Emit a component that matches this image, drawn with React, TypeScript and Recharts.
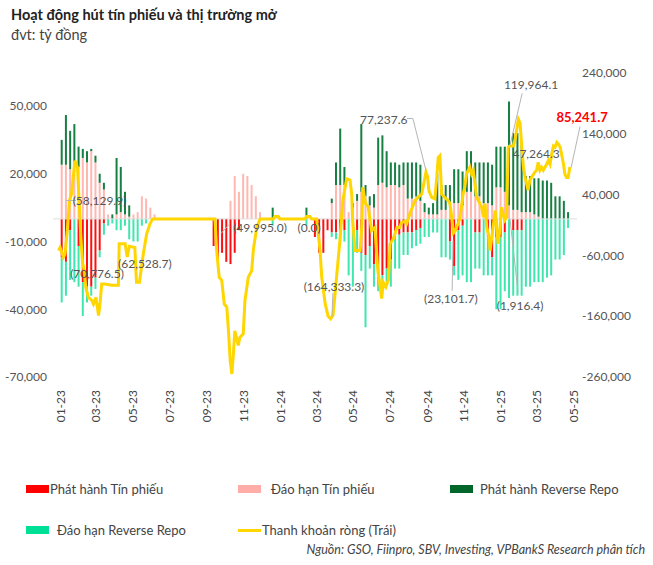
import React from 'react';
import { ComposedChart, Bar, Line, XAxis, YAxis, ReferenceLine, ReferenceDot } from 'recharts';

const FONT = 'Lato, "Noto Sans", sans-serif';

// Month tick labels (first day of each labelled month)
const monthTicks = ['2023-01', '2023-03', '2023-05', '2023-07', '2023-09', '2023-11', '2024-01', '2024-03', '2024-05', '2024-07', '2024-09', '2024-11', '2025-01', '2025-03', '2025-05'];

// Weekly values, thousand tỷ đồng (week 0 = first week of Jan 2023)
const daoHanTinPhieu = [24, 24, 22, 25, 23, 27, 25, 30, 25, 16, 13, 2, 0, 2, 3, 2, 1, 2, 3, 10, 9, 5, 2, 0, 0, 0, 0, 0, 0, 0, 0, 0, 0, 0, 0, 0, 0, 0, 0, 0, 8, 19, 12, 20, 19, 15, 10, 3, 0, 0, 0, 0, 0, 0, 0, 0, 0, 0, 0, 0, 0, 0, 0, 0, 7, 15, 15, 15, 3, 5, 8, 12, 10, 6, 5, 15, 16, 14, 15, 15, 14, 15, 9, 9, 10, 8, 3, 2, 2, 2, 4, 4, 5, 7, 7, 6, 12, 12, 10, 10, 7, 7, 6, 14, 14, 12, 6, 4, 4, 3, 3, 3, 2, 1, 0, 0, 0, 0, 0, 0, 0];
const phatHanhRepo = [11, 22, 17, 17, 9, 4, 5, 1, 3, 4, 3, 0, 2, 25, 20, 10, 5, 0, 0, 0, 0, 0, 0, 0, 0, 0, 0, 0, 0, 0, 0, 0, 0, 0, 0, 0, 0, 0, 0, 0, 0, 0, 0, 0, 0, 0, 0, 0, 0, 0, 5, 0, 0, 0, 0, 0, 0, 0, 5, 0, 0, 0, 0, 0, 2, 10, 25, 8, 0, 2, 3, 30, 5, 4, 6, 21, 21, 16, 10, 10, 10, 10, 16, 16, 15, 16, 4, 3, 5, 18, 11, 11, 10, 15, 15, 15, 18, 18, 15, 15, 18, 18, 18, 18, 18, 20, 46, 34, 34, 30, 16, 16, 16, 17, 17, 17, 16, 10, 10, 8, 3];
const phatHanhTinPhieu = [-17, -19, -5, 0, -12, -28, -30, -30, -26, -14, -2, 0, 0, 0, 0, 0, 0, 0, 0, 0, 0, 0, 0, 0, 0, 0, 0, 0, 0, 0, 0, 0, 0, 0, 0, 0, -12, -18, -15, -19, -20, -15, -5, 0, 0, 0, 0, 0, 0, 0, 0, 0, 0, 0, 0, 0, 0, 0, 0, 0, -8, -15, -15, -5, -6, -6, -5, -5, 0, 0, -5, -15, -16, -12, -20, -24, -25, -22, -18, -7, -7, -6, -6, -6, -5, -4, 0, 0, 0, 0, 0, 0, -10, -21, -5, -3, 0, 0, -6, -6, 0, -8, -17, -8, -8, -6, 0, -5, -5, -5, 0, 0, 0, 0, 0, 0, 0, 0, 0, 0, 0];
const daoHanRepo = [-20, -15, -22, -28, -18, -15, -7, -4, -5, -3, -5, -3, -2, -5, -5, -3, -9, -10, -10, -3, -2, 0, 0, 0, 0, 0, 0, 0, 0, 0, 0, 0, 0, 0, 0, 0, 0, 0, 0, 0, 0, 0, 0, 0, 0, 0, 0, 0, 0, 0, -3, 0, 0, 0, 0, 0, 0, 0, -3, 0, 0, 0, 0, 0, -2, -3, -5, -5, -25, -30, -10, -8, -32, -10, -10, -8, -6, -6, -12, -15, -15, -10, -10, -7, -7, -7, -8, -8, -6, -6, -17, -17, -8, -4, -22, -22, -28, -28, -16, -16, -25, -17, -8, -32, -32, -26, -35, -29, -29, -29, -30, -30, -28, -28, -28, -26, -25, -18, -18, -16, -4];

// Net liquidity (right axis): [week, thousand tỷ đồng]
const thanhKhoanRong: [number, number][] = [
  [-0.8, -52], [-0.4, -47], [0.36, -63], [0.76, -58.13], [1.3, -19], [1.8, 30], [2.3, 41], [3.1, 96], [3.7, 85], [4.1, 30], [4.5, -30], [4.9, -70.78], [5.3, -85], [5.7, -113], [6.3, -129], [7.1, -134], [7.5, -140], [8.1, -129], [8.7, -159], [9.05, -140], [9.45, -107], [10.2, -107], [11.8, -109], [13.4, -109], [13.6, -41], [15, -41], [15.5, -62.53], [16, -45], [17.3, -47], [17.7, -104], [18.4, -104], [19.3, -58], [20.1, -25], [20.9, -8], [21.5, 0],
  [36.3, 0], [36.7, -52], [37.3, -96], [37.9, -101], [38.5, -140], [39.1, -145], [39.5, -184], [39.9, -233], [40.3, -255], [40.6, -228], [41.0, -184], [41.4, -195], [41.8, -208], [42.2, -195], [43.0, -189], [43.4, -134], [44.2, -96], [45.0, -85], [45.4, -50], [46.2, -14], [47, 0],
  [50.1, 0], [50.5, 4], [51.3, 4], [51.7, 0], [57.6, 0], [58.0, 4], [58.8, 4], [59.2, 0], [60.4, 0],
  [61.2, -52], [61.6, -96], [62.4, -139], [63.1, -160], [63.7, -164.33], [64.3, -158], [65.1, -96], [65.9, -36], [66.6, 30], [67.5, 66], [68.3, 64], [68.7, 41], [68.9, 0], [69.5, -52], [70.7, -52], [71.1, -10], [71.3, 52], [72, 25], [72.6, 20], [73, 0], [73.4, -19], [74.2, -14], [74.9, -85], [75.4, -110], [75.8, -131], [76.2, -105], [76.8, -112], [77.4, -100], [77.8, -41], [78.6, -32], [79.4, -14], [80.1, -14], [80.5, -6], [81.3, -4], [81.7, -8], [82.5, 9], [83.3, 23], [83.7, 30], [84.5, 36], [85.3, 41], [85.7, 55], [86.3, 77.24], [86.7, 69], [87, 46], [87.7, 35], [88.4, 33], [88.8, 63], [89.2, 101], [89.6, 104],
  [90.0, 41], [90.8, 35], [91.6, 30], [92, 25], [92.4, 3], [92.8, -23.1], [93.2, -20], [94, -6], [94.3, 0], [94.8, 25], [95.1, 41], [95.5, 52], [95.9, 74], [96.7, 85], [97.1, 74], [97.5, 80], [97.9, 58], [98.3, 36], [99.5, 19], [99.9, 3], [100.3, 25], [100.7, -14], [101.1, -25], [101.5, -52], [101.9, -30], [102.3, -8], [102.7, 14], [103.1, -19], [103.4, -41], [103.8, -19], [104.2, 19], [104.6, 8], [105, -1.92], [105.4, 3], [105.8, 118], [106.2, 119.96], [107, 120], [107.4, 130], [108.2, 164], [108.6, 158], [109, 118], [109.4, 85], [109.8, 68], [110.5, 47.26], [110.9, 63], [111.3, 68], [112.1, 77], [112.5, 80], [112.9, 93], [113.3, 80], [113.7, 85], [114.1, 80], [114.9, 90], [115.3, 96], [115.7, 90], [116.1, 107], [116.5, 120], [116.9, 118], [117.3, 126], [117.7, 123], [118.1, 118], [118.5, 104], [118.9, 90], [119.2, 74], [119.6, 68], [120, 68], [120.4, 85.24],
];

const leftTicks = [-70000, -40000, -10000, 20000, 50000];
const rightTicks = [-260000, -160000, -60000, 40000, 140000, 240000];
const xDomain: [number, number] = [-2.088, 122.09];

// Annotations: text centre [week, value (thousand, right axis)]
const annotations = [
  { t: 8.93, v: 30.2, text: '(58,129.9)' },
  { t: 8.34, v: -90.2, text: '(70,776.5)' },
  { t: 19.7, v: -73.7, text: '(62,528.7)' },
  { t: 46.97, v: -14.3, text: '(49,995.0)' },
  { t: 58.6, v: -14.3, text: '(0.0)' },
  { t: 64.5, v: -111.6, text: '(164,333.3)' },
  { t: 76.3, v: 163.7, text: '77,237.6' },
  { t: 92.2, v: -131.4, text: '(23,101.7)' },
  { t: 111.2, v: 221.4, text: '119,964.1' },
  { t: 112.4, v: 107.7, text: '47,264.3' },
  { t: 108.6, v: -142.9, text: '(1,916.4)' },
  { t: 123.3, v: 167, text: '85,241.7', highlight: true },
];
const leaders: [number, number, number, number][] = [
  [1.0, 30.2, 3.4, 30.2],
  [37.7, -24.2, 39.6, -9.4],
  [64.26, -121.5, 64.0, -161],
  [81.8, 165.2, 83.2, 165.2],
  [83.2, 165.2, 86.3, 79.6],
  [92.5, -118.2, 92.7, -35.8],
  [109.1, 206.6, 106.2, 120.8],
  [108.1, -120, 106.2, 0.5],
  [122.8, 152, 120.7, 84.5],
];

const legendItems = [
  { label: 'Phát hành Tín phiếu', color: '#FF0000', left: 26, top: 489, gap: 1, line: false },
  { label: 'Đáo hạn Tín phiếu', color: '#FFADA6', left: 238, top: 489, gap: 10, line: false },
  { label: 'Phát hành Reverse Repo', color: '#00662A', left: 450, top: 489, gap: 7, line: false },
  { label: 'Đáo hạn Reverse Repo', color: '#00DF96', left: 26, top: 530, gap: 8, line: false },
  { label: 'Thanh khoản ròng (Trái)', color: '#FFD600', left: 238, top: 530, gap: 1, line: true },
];

function weekOf(ym: string) {
  const [y, m] = ym.split('-').map(Number);
  const day = (Date.UTC(y, m - 1, 1) - Date.UTC(2023, 0, 1)) / 86400000;
  return (day - 3) / 7;
}
const tickValues = monthTicks.map(weekOf);
const tickLabels = monthTicks.map((s) => s.slice(5, 7) + '-' + s.slice(2, 4));

const barData = daoHanTinPhieu.map((p, i) => ({
  t: i,
  pink: p * 1000,
  green: phatHanhRepo[i] * 1000,
  red: phatHanhTinPhieu[i] * 1000,
  mint: daoHanRepo[i] * 1000,
}));
const lineData = thanhKhoanRong.map(([t, v]) => ({ t, net: v * 1000 }));

const fmt = (v: number) => v.toLocaleString('en-US');

const MonthTick = (props: any) => {
  const { x, y, index } = props;
  return (
    <text x={x} y={y} transform={`rotate(-90 ${x} ${y})`} textAnchor="end" dominantBaseline="central" fontSize={12} fill="#444" fontFamily={FONT}>
      {tickLabels[index]}
    </text>
  );
};

export default function App() {
  return (
    <div style={{ position: 'absolute', left: 0, top: 0, width: 653, height: 565, background: '#fff', fontFamily: FONT, overflow: 'hidden' }}>
      <div style={{ position: 'absolute', left: 11, top: 6, fontSize: 14.5, fontWeight: 700, color: '#222', lineHeight: '18px', whiteSpace: 'nowrap' }}>
        Hoạt động hút tín phiếu và thị trường mở
      </div>
      <div style={{ position: 'absolute', left: 11, top: 26, fontSize: 14.5, color: '#444', lineHeight: '18px', whiteSpace: 'nowrap' }}>
        đvt: tỷ đồng
      </div>
      <div style={{ position: 'absolute', left: 0, top: 0 }}>
        <ComposedChart width={653} height={440} data={barData} margin={{ top: 73, right: 0, bottom: 0, left: 0 }} stackOffset="sign" barGap={0} barCategoryGap={0}>
          <XAxis dataKey="t" type="number" domain={xDomain} allowDataOverflow ticks={tickValues} interval={0} tick={<MonthTick />} tickLine={false} axisLine={false} height={63} tickSize={0} tickMargin={13} />
          <XAxis xAxisId="bars" dataKey="t" type="number" domain={xDomain} allowDataOverflow hide />
          <YAxis yAxisId="left" domain={[-70000, 64615]} allowDataOverflow ticks={leftTicks} interval={0} width={53} tickLine={false} axisLine={false} tickSize={0} tickMargin={6} tick={{ fontSize: 12, fill: '#555', fontFamily: FONT }} tickFormatter={fmt} />
          <YAxis yAxisId="right" orientation="right" domain={[-260000, 240000]} allowDataOverflow ticks={rightTicks} interval={0} width={76} tickLine={false} axisLine={false} tickSize={0} tickMargin={5} tick={{ fontSize: 12, fill: '#555', fontFamily: FONT }} tickFormatter={fmt} />
          <Bar xAxisId="bars" yAxisId="left" dataKey="pink" stackId="s" fill="#FFB8B1" barSize={2} isAnimationActive={false} />
          <Bar xAxisId="bars" yAxisId="left" dataKey="green" stackId="s" fill="#167F42" barSize={2} isAnimationActive={false} />
          <Bar xAxisId="bars" yAxisId="left" dataKey="red" stackId="s" fill="#FF1010" barSize={2} isAnimationActive={false} />
          <Bar xAxisId="bars" yAxisId="left" dataKey="mint" stackId="s" fill="#3FE6AE" barSize={2} isAnimationActive={false} />
          <ReferenceLine yAxisId="left" y={0} stroke="#dedede" strokeWidth={1} />
          <Line yAxisId="right" data={lineData} dataKey="net" type="linear" stroke="#FFD600" strokeWidth={3} dot={false} activeDot={false} isAnimationActive={false} />
          {leaders.map(([t1, v1, t2, v2], i) => (
            <ReferenceLine key={'l' + i} yAxisId="right" segment={[{ x: t1, y: v1 * 1000 }, { x: t2, y: v2 * 1000 }]} stroke="#b5b5b5" strokeWidth={1} ifOverflow="visible" />
          ))}
          {annotations.map((a, i) => (
            <ReferenceDot
              key={'a' + i}
              yAxisId="right"
              x={a.t}
              y={a.v * 1000}
              r={0}
              ifOverflow="visible"
              shape={(p: any) => (
                <text x={p.cx} y={p.cy} textAnchor="middle" dominantBaseline="central" fontFamily={FONT} fontSize={a.highlight ? 13 : 12} fontWeight={a.highlight ? 700 : 400} fill={a.highlight ? '#FF0000' : '#555'}>
                  {a.text}
                </text>
              )}
            />
          ))}
        </ComposedChart>
      </div>
      {legendItems.map((it) => (
        <div key={it.label} style={{ position: 'absolute', left: it.left, top: it.top - 9, height: 18, display: 'flex', alignItems: 'center', whiteSpace: 'nowrap' }}>
          <span style={{ display: 'inline-block', width: 23, height: it.line ? 3 : 8, background: it.color, marginRight: it.gap }} />
          <span style={{ fontSize: 13, color: '#444' }}>{it.label}</span>
        </div>
      ))}
      <div style={{ position: 'absolute', right: 8, top: 541, fontSize: 12.5, fontStyle: 'italic', color: '#444', whiteSpace: 'nowrap', lineHeight: '18px' }}>
        Nguồn: GSO, Fiinpro, SBV, Investing, VPBankS Research phân tích
      </div>
    </div>
  );
}
